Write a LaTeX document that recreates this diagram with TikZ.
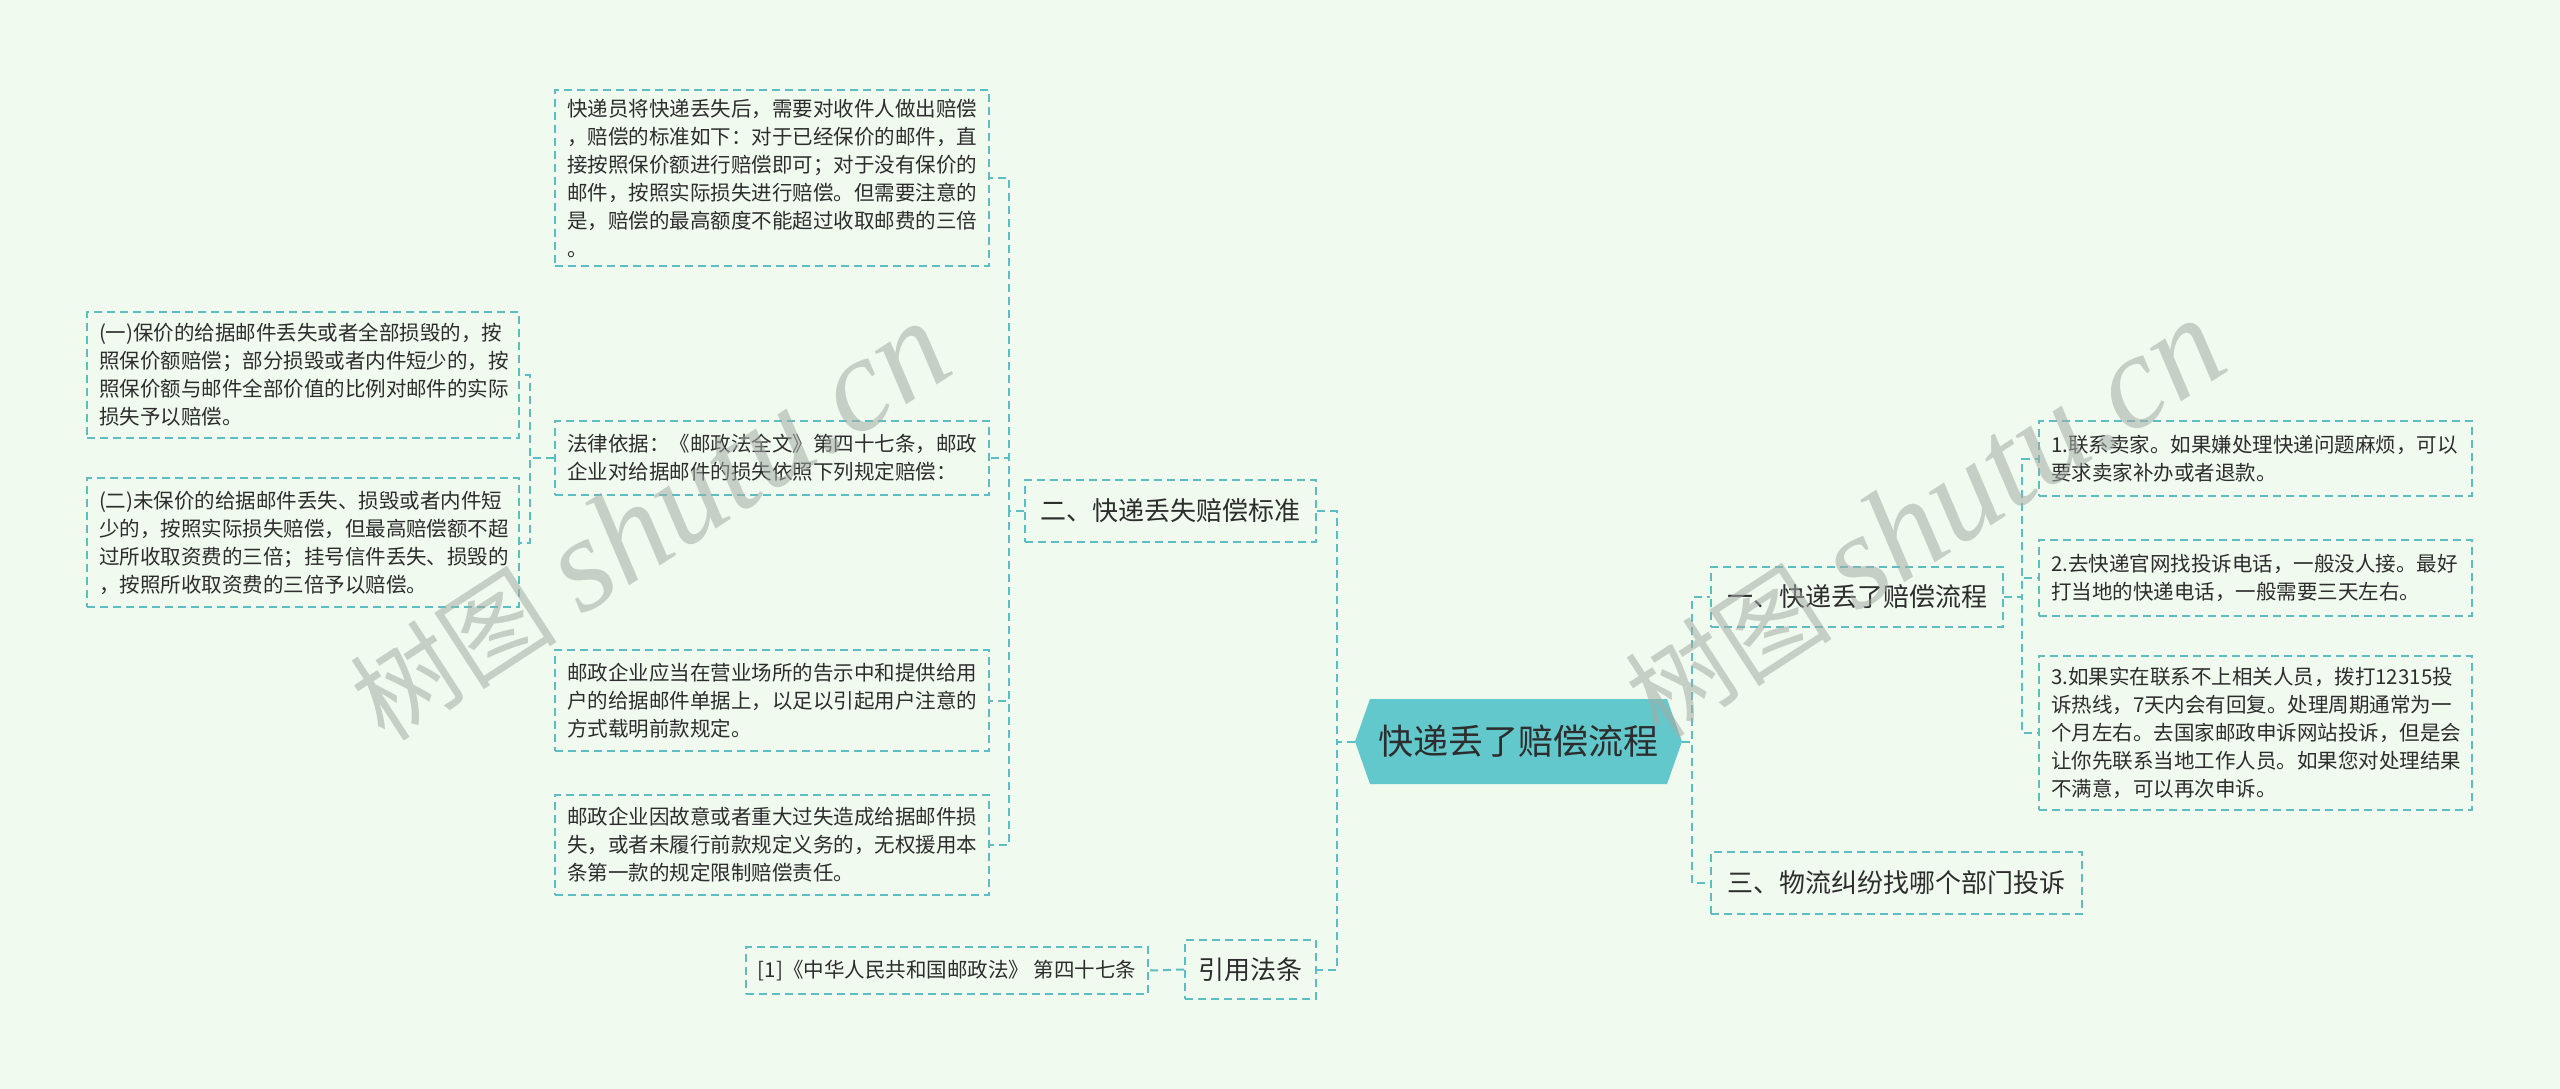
\documentclass[tikz,border=0pt]{standalone}
\usepackage{fontspec}
\setmainfont{Noto Sans CJK SC}
\newfontfamily\wmlatin{Liberation Serif}
\usetikzlibrary{calc}
\definecolor{bgc}{RGB}{240,250,239}
\definecolor{lnc}{RGB}{92,189,195}
\definecolor{hexc}{RGB}{99,200,203}
\definecolor{txtc}{RGB}{45,45,45}
\definecolor{wmc}{RGB}{165,172,166}
\begin{document}
\begin{tikzpicture}[x=1pt,y=-1pt,
  conn/.style={draw=lnc, line width=2pt, dash pattern=on 8pt off 5pt},
  leaf/.style={draw=lnc, line width=2pt, dash pattern=on 8pt off 5pt, align=left,
    inner xsep=12pt, inner ysep=0pt, text=txtc, font=\fontsize{20.5}{28}\selectfont},
  mid/.style={draw=lnc, line width=2pt, dash pattern=on 8pt off 5pt, align=center,
    inner sep=0pt, text=txtc, font=\fontsize{26}{30}\selectfont},
  rootnode/.style={inner sep=0pt, minimum width=327, minimum height=85, text=txtc,
    font=\fontsize{35}{40}\selectfont,
    path picture={\fill[hexc] (path picture bounding box.west)
      -- ([xshift=15pt]path picture bounding box.north west)
      -- ([xshift=-15pt]path picture bounding box.north east)
      -- (path picture bounding box.east)
      -- ([xshift=-15pt]path picture bounding box.south east)
      -- ([xshift=15pt]path picture bounding box.south west) -- cycle;}},
  wm/.style={rotate=33, text=wmc, opacity=0.55, inner sep=0pt}
]
\useasboundingbox (0,0) rectangle (2560,1089);
\fill[bgc] (0,0) rectangle (2560,1089);

% root
\node[rootnode] (root) at (1518.5,741.5) {快递丢了赔偿流程};

% second level
\node[mid, minimum width=291, minimum height=62] (m1) at (1170.5,511) {二、快递丢失赔偿标准};
\node[mid, minimum width=131, minimum height=59] (m2) at (1250.5,969.5) {引用法条};
\node[mid, minimum width=292, minimum height=60] (rm1) at (1857,597) {一、快递丢了赔偿流程};
\node[mid, minimum width=371, minimum height=62] (rm3) at (1896.5,883) {三、物流纠纷找哪个部门投诉};

% left leaves
\node[leaf, minimum width=434, minimum height=176, text width=410] (a1) at (772,178) {快递员将快递丢失后，需要对收件人做出赔偿\\，赔偿的标准如下：对于已经保价的邮件，直\\接按照保价额进行赔偿即可；对于没有保价的\\邮件，按照实际损失进行赔偿。但需要注意的\\是，赔偿的最高额度不能超过收取邮费的三倍\\。};
\node[leaf, minimum width=434, minimum height=74, text width=410] (a2) at (772,458) {法律依据：《邮政法全文》第四十七条，邮政\\企业对给据邮件的损失依照下列规定赔偿：};
\node[leaf, minimum width=434, minimum height=101, text width=410] (a3) at (772,700.5) {邮政企业应当在营业场所的告示中和提供给用\\户的给据邮件单据上，以足以引起用户注意的\\方式载明前款规定。};
\node[leaf, minimum width=434, minimum height=100, text width=410] (a4) at (772,845) {邮政企业因故意或者重大过失造成给据邮件损\\失，或者未履行前款规定义务的，无权援用本\\条第一款的规定限制赔偿责任。};
\node[leaf, minimum width=432, minimum height=126, text width=408] (b1) at (303,375) {(一)保价的给据邮件丢失或者全部损毁的，按\\照保价额赔偿；部分损毁或者内件短少的，按\\照保价额与邮件全部价值的比例对邮件的实际\\损失予以赔偿。};
\node[leaf, minimum width=432, minimum height=129, text width=408] (b2) at (303,542.5) {(二)未保价的给据邮件丢失、损毁或者内件短\\少的，按照实际损失赔偿，但最高赔偿额不超\\过所收取资费的三倍；挂号信件丢失、损毁的\\，按照所收取资费的三倍予以赔偿。};
\node[leaf, align=center, inner xsep=0pt, minimum width=402, minimum height=47] (c1) at (947,970.5) {[1]《中华人民共和国邮政法》 第四十七条};

% right leaves
\node[leaf, minimum width=433, minimum height=75, text width=409] (r1) at (2255.5,458.5) {1.联系卖家。如果嫌处理快递问题麻烦，可以\\要求卖家补办或者退款。};
\node[leaf, minimum width=433, minimum height=76, text width=409] (r2) at (2255.5,578) {2.去快递官网找投诉电话，一般没人接。最好\\打当地的快递电话，一般需要三天左右。};
\node[leaf, minimum width=433, minimum height=154, text width=409] (r3) at (2255.5,733) {3.如果实在联系不上相关人员，拨打12315投\\诉热线，7天内会有回复。处理周期通常为一\\个月左右。去国家邮政申诉网站投诉，但是会\\让你先联系当地工作人员。如果您对处理结果\\不满意，可以再次申诉。};

% connectors
\draw[conn] (root.west) -- ++(-18,0) |- (m1.east);
\draw[conn] (root.west) -- ++(-18,0) |- (m2.east);
\draw[conn] (root.east) -- ++(10,0) |- (rm1.west);
\draw[conn] (root.east) -- ++(10,0) |- (rm3.west);
\draw[conn] (m1.west) -- ++(-15,0) |- (a1.east);
\draw[conn] (m1.west) -- ++(-15,0) |- (a2.east);
\draw[conn] (m1.west) -- ++(-15,0) |- (a3.east);
\draw[conn] (m1.west) -- ++(-15,0) |- (a4.east);
\draw[conn] (a2.west) -- ++(-24,0) |- (b1.east);
\draw[conn] (a2.west) -- ++(-24,0) |- (b2.east);
\draw[conn] (m2.west) -- (c1.east);
\draw[conn] (rm1.east) -- ++(18,0) |- (r1.west);
\draw[conn] (rm1.east) -- ++(18,0) |- (r2.west);
\draw[conn] (rm1.east) -- ++(18,0) |- (r3.west);

% watermarks
\node[wm] (wm1) at (649,522) {{\fontsize{104}{110}\selectfont 树图}\hspace{26pt}{\wmlatin\itshape\fontsize{134}{140}\selectfont shutu.cn}};
\node[wm] (wm2) at (1924,519) {{\fontsize{104}{110}\selectfont 树图}\hspace{26pt}{\wmlatin\itshape\fontsize{134}{140}\selectfont shutu.cn}};
\end{tikzpicture}
\end{document}
